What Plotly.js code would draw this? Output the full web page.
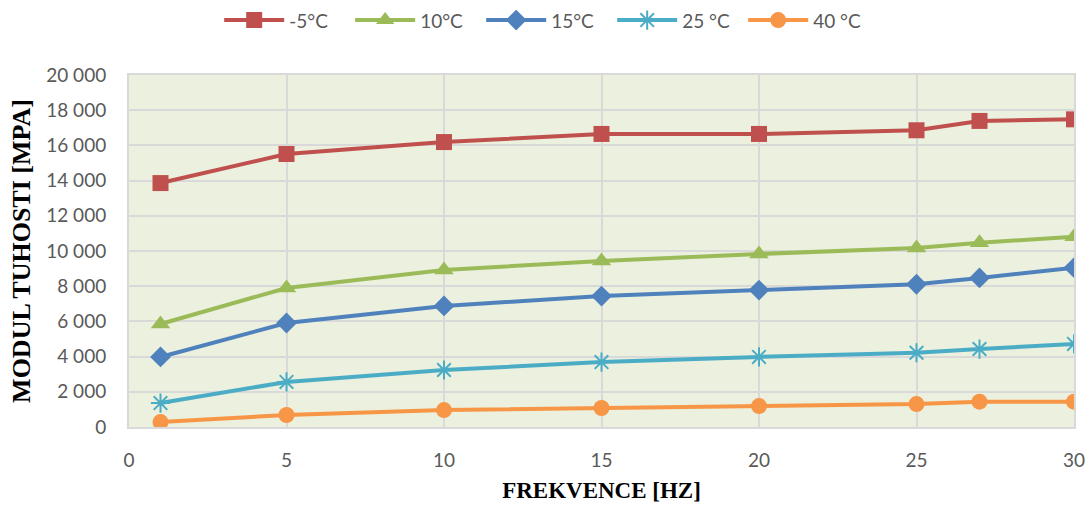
<!DOCTYPE html>
<html><head><meta charset="utf-8">
<script src="https://cdn.plot.ly/plotly-3.0.1.min.js"></script>
<style>body{margin:0;background:#fff}#c{width:1089px;height:506px}</style>
</head><body><div id="c"></div>
<script>
const freq = [1, 5, 10, 15, 20, 25, 27, 30];
const names = ['-5°C', '10°C', '15°C', '25 °C', '40 °C'];
const sMinus5 = [13860, 15510, 16190, 16650, 16650, 16860, 17390, 17480];
const s10 = [5850, 7900, 8920, 9430, 9830, 10170, 10470, 10810];
const s15 = [3980, 5910, 6880, 7440, 7780, 8110, 8470, 9050];
const s25 = [1360, 2560, 3240, 3690, 3980, 4220, 4430, 4720];
const s40 = [280, 680, 960, 1080, 1190, 1300, 1440, 1440];
const yTicks = [0, 2000, 4000, 6000, 8000, 10000, 12000, 14000, 16000, 18000, 20000];
const xTicks = [0, 5, 10, 15, 20, 25, 30];

const series = [sMinus5, s10, s15, s25, s40];
const colors = ['#C0504D', '#9BBB59', '#4F81BD', '#4BACC6', '#F79646'];
const symbols = ['square', 'triangle-up', 'diamond', 'asterisk-open', 'circle'];
const sizes = [16, 17, 16, 16, 16];

const traces = series.map((s, i) => ({
  x: freq, y: s, name: names[i], type: 'scatter', mode: 'lines+markers',
  line: {color: colors[i], width: 4},
  marker: {symbol: symbols[i], size: sizes[i], color: colors[i],
           line: {color: colors[i], width: symbols[i] === 'asterisk-open' ? 2 : 0}}
}));

const tickFont = {family: 'Lato, "Open Sans", sans-serif', size: 19, color: '#595959'};
const titleFont = (sz) => ({family: '"Liberation Serif", serif', size: sz, color: '#000', weight: 'bold'});
const layout = {
  width: 1089, height: 506,
  margin: {l: 129, r: 15, t: 75, b: 79},
  paper_bgcolor: '#fff', plot_bgcolor: '#EBF1DE',
  separators: '. ',
  showlegend: true,
  legend: {orientation: 'h', x: 0.502, xanchor: 'center', xref: 'container', y: 0.96, yanchor: 'middle', yref: 'container',
           font: tickFont, itemwidth: 60, tracegroupgap: 0, entrywidth: 56, entrywidthmode: 'pixels'},
  xaxis: {range: [0, 30], tickvals: xTicks, showgrid: true, gridcolor: '#D9D9D9', gridwidth: 2,
          zeroline: false, showline: true, linecolor: '#D9D9D9', linewidth: 2, mirror: true,
          tickfont: tickFont, ticks: '', ticklen: 0, ticklabelstandoff: 15,
          title: {text: 'FREKVENCE [HZ]', font: titleFont(23), standoff: 12}},
  yaxis: {range: [0, 20000], tickvals: yTicks, tickformat: ',d', showgrid: true, gridcolor: '#D9D9D9', gridwidth: 2,
          zeroline: false, showline: true, linecolor: '#D9D9D9', linewidth: 2, mirror: true,
          tickfont: tickFont, ticks: '', ticklen: 0, ticklabelstandoff: 17,
          title: {text: 'MODUL TUHOSTI [MPA]', font: titleFont(26), standoff: 8}}
};
Plotly.newPlot('c', traces, layout, {displayModeBar: false});
</script></body></html>
